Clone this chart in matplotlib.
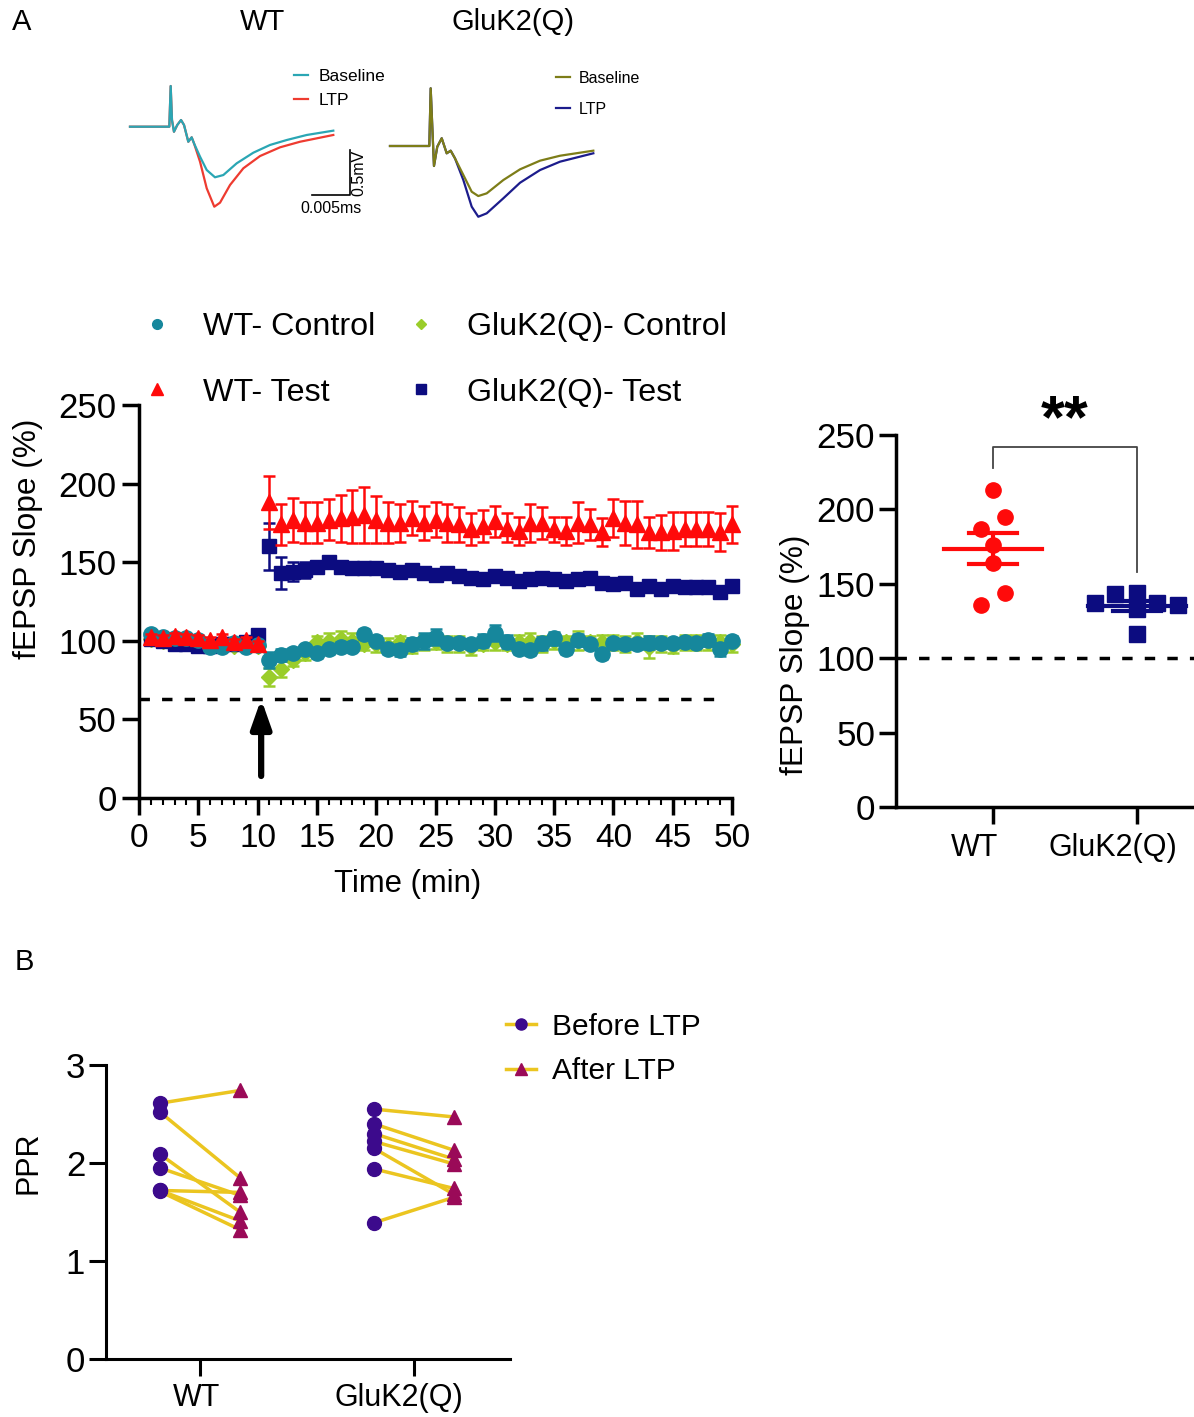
import numpy as np
import matplotlib
matplotlib.use('Agg')
import matplotlib.pyplot as plt
from matplotlib import font_manager
from matplotlib.lines import Line2D

# fontes: Arial-like, com versão estreita se existir
names = {f.name for f in font_manager.fontManager.ttflist}
SANS = 'Liberation Sans'
NARROW = 'Liberation Sans Narrow' if 'Liberation Sans Narrow' in names else SANS
NK = 1.0 if NARROW != SANS else 0.93
plt.rcParams['font.family'] = [SANS, 'DejaVu Sans']

# ---------------- dados ----------------
# traços de exemplo (ms, mV)
wt_t_common = [0, 0.00513, 0.00531, 0.00548, 0.00574, 0.00617, 0.00666, 0.00705, 0.00761, 0.00805, 0.00835]
wt_v_common = [0, 0, 0.452, 0.074, -0.056, 0.019, 0.074, 0.019, -0.167, -0.118, -0.184]
wt_t_tail = [0.00914, 0.01001, 0.01109, 0.01218, 0.01392, 0.01609, 0.01827, 0.02045, 0.02306, 0.02653]
wt_base_tail = [-0.333, -0.481, -0.562, -0.537, -0.407, -0.289, -0.203, -0.148, -0.092, -0.044]
wt_t_tail_ltp = [0.00914, 0.01001, 0.01100, 0.01175, 0.01305, 0.01479, 0.01697, 0.01958, 0.02219, 0.02653]
wt_ltp_tail = [-0.389, -0.684, -0.889, -0.844, -0.648, -0.462, -0.326, -0.229, -0.167, -0.092]

gk_t_common = [0, 0.00513, 0.00531, 0.00552, 0.00574, 0.00617, 0.00675, 0.00740, 0.00792, 0.00848]
gk_v_common = [0, 0, 0.641, 0.214, -0.222, -0.008, 0.086, -0.081, -0.052, -0.137]
gk_t_tail = [0.00957, 0.01066, 0.01152, 0.01262, 0.01479, 0.01697, 0.01958, 0.02219, 0.02653]
gk_base_tail = [-0.322, -0.508, -0.556, -0.526, -0.378, -0.259, -0.163, -0.108, -0.052]
gk_ltp_tail = [-0.378, -0.674, -0.786, -0.748, -0.581, -0.408, -0.267, -0.174, -0.081]

# curso temporal (min 1..50)
minutes = list(range(1, 51))
wt_ctrl = [104.6, 102.6, 101.5, 101.5, 100.5, 96.3, 95.9, 98.5, 96.3, 97.3,
           87.8, 91.0, 92.4, 94.6, 92.0, 94.6, 96.3, 96.3, 104.3, 100.1,
           94.6, 94.1, 97.9, 100.1, 102.6, 98.8, 98.8, 97.9, 100.1, 104.8,
           99.5, 94.6, 94.1, 98.4, 101.5, 94.6, 100.5, 97.9, 91.6, 98.8,
           97.9, 97.9, 98.8, 98.4, 98.4, 99.5, 98.8, 100.5, 94.6, 100.1]
wt_ctrl_sem = [2, 2, 2, 2, 2, 2, 2, 2, 2, 2,
               5, 4, 3, 3, 3, 3, 3, 3, 3, 3,
               3, 4, 4, 5, 5, 3, 3, 3, 4, 5,
               4, 3, 3, 4, 4, 3, 4, 3, 3, 3,
               3, 3, 4, 3, 3, 3, 3, 4, 4, 3]
gk_ctrl = [101, 100, 100, 99, 99, 98, 98, 97, 98, 97,
           77, 82, 88, 92, 99, 100, 101, 100, 98, 98,
           97, 99, 97, 99, 99, 98, 98, 96, 98, 99,
           98, 99, 100, 98, 100, 99, 100, 99, 99, 99,
           98, 100, 96, 98, 97, 99, 99, 99, 99, 98]
gk_ctrl_sem = [2, 2, 2, 2, 2, 2, 2, 2, 2, 2,
               6, 5, 4, 4, 4, 5, 5, 5, 4, 5,
               5, 4, 5, 5, 4, 5, 5, 5, 4, 5,
               4, 5, 5, 5, 5, 4, 6, 4, 5, 5,
               5, 5, 7, 5, 5, 5, 5, 5, 5, 5]
wt_test = [102.6, 101.5, 103.1, 102.2, 101.5, 100.5, 102.2, 99.4, 100.5, 97.9,
           188, 174, 177, 175, 175, 177, 178, 179, 180, 177,
           175, 175, 178, 175, 177, 175, 174, 171, 173, 176,
           172, 170, 175, 175, 171, 170, 175, 174, 169, 178,
           175, 174, 169, 169, 170, 171, 171, 171, 169, 174]
wt_test_sem = [2, 2, 2, 2, 2, 2, 2, 2, 2, 2,
               17, 13, 14, 13, 13, 13, 15, 17, 18, 15,
               13, 12, 11, 11, 11, 12, 11, 10, 10, 10,
               9, 9, 12, 10, 8, 9, 13, 10, 9, 12,
               14, 15, 10, 11, 12, 11, 11, 11, 12, 12]
gk_test = [101, 100, 98, 98, 97, 97, 98, 98, 99, 104,
           160, 143, 144, 145, 147, 150, 147, 146, 146, 146,
           145, 144, 145, 143, 142, 143, 141, 140, 139, 141,
           140, 138, 139, 140, 139, 138, 139, 140, 137, 136,
           137, 133, 135, 133, 135, 134, 134, 134, 131, 135]
gk_test_sem = [2, 2, 2, 2, 2, 2, 2, 2, 2, 2,
               15, 10, 6, 5, 4, 4, 3, 3, 3, 3,
               3, 3, 3, 3, 3, 3, 3, 3, 3, 3,
               3, 3, 3, 3, 3, 3, 3, 3, 3, 3,
               3, 3, 3, 3, 3, 3, 3, 3, 3, 3]
dashed_level = 63

# LTP por animal
groups = ['WT', 'GluK2(Q)']
ltp_wt = [213, 195, 187, 176, 164, 144, 136]
ltp_gk = [137, 143, 144, 133, 137, 136, 116]
jit_wt = [0, 0.085, -0.085, 0, 0, 0.085, -0.085]
jit_gk = [-0.29, -0.15, 0, 0, 0.14, 0.285, 0]

# PPR
ppr_wt_before = [2.61, 2.52, 2.09, 1.95, 1.72, 1.72, 1.71]
ppr_wt_after = [2.74, 1.85, 1.50, 1.67, 1.70, 1.41, 1.32]
ppr_gk_before = [2.55, 2.40, 2.30, 2.22, 2.15, 1.94, 1.39]
ppr_gk_after = [2.47, 2.13, 2.04, 1.99, 1.68, 1.74, 1.65]

# cores
TEAL, LIME, RED, NAVY = '#16879c', '#9acd2a', '#ff0a0a', '#0c0c80'
PURPLE, MAROON, GOLD = '#3c0a8c', '#9a0a58', '#ebc520'

W, H = 1194, 1417
fig = plt.figure(figsize=(W / 100, H / 100), dpi=100)


def fx(px):
    return px / W


def fy(py):
    return 1 - py / H


def style(ax, lw=2.5):
    for s in ['top', 'right']:
        ax.spines[s].set_visible(False)
    for s in ['left', 'bottom']:
        ax.spines[s].set_linewidth(lw)
    ax.tick_params(which='major', length=12, width=lw, direction='out')


def cat_labels(ax, xs, y, size):
    # rótulos das categorias um pouco deslocados, como no original
    ax.set_xticklabels([])
    for x, lab in zip(xs, groups):
        ax.text(x, y, lab, transform=ax.get_xaxis_transform(), ha='center', va='center',
                fontsize=size, clip_on=False)


# ---------------- traços ----------------
fig.text(fx(22), fy(22), 'A', fontsize=21, ha='center', va='center')
fig.text(fx(263), fy(22), 'WT', fontsize=21, ha='center', va='center')
fig.text(fx(513), fy(22), 'GluK2(Q)', fontsize=21, ha='center', va='center')

axt1 = fig.add_axes([fx(125), fy(230), fx(250), fy(80) - fy(230)])
axt1.set_xlim(-0.00065, 0.03197)
axt1.set_ylim((126.7 - 230) * 0.01111, (126.7 - 80) * 0.01111)
axt1.axis('off')
axt1.plot(wt_t_common + wt_t_tail, wt_v_common + wt_base_tail, color='#2aa6b4', lw=1.6, zorder=3, label='Baseline')
axt1.plot(wt_t_common + wt_t_tail_ltp, wt_v_common + wt_ltp_tail, color='#ee3b30', lw=1.6, zorder=2, label='LTP')
sb_t, sb_v = 0.02371, -0.759
axt1.plot([sb_t, sb_t + 0.005, sb_t + 0.005], [sb_v, sb_v, sb_v + 0.5], color='black', lw=1.2)
axt1.text(sb_t + 0.0025, sb_v - 0.07, '0.005ms', ha='center', va='top', fontsize=11.5)
axt1.text(sb_t + 0.0062, sb_v + 0.25, '0.5mV', ha='center', va='center', rotation=90, fontsize=11.5)
axt1.legend(loc='upper left', bbox_to_anchor=(fx(294), fy(69)), bbox_transform=fig.transFigure,
            frameon=False, fontsize=12.5, handlelength=0.8, handletextpad=0.6, labelspacing=0.5,
            borderpad=0, borderaxespad=0)

axt2 = fig.add_axes([fx(385), fy(230), fx(215), fy(80) - fy(230)])
axt2.set_xlim(-0.00065, 0.0274)
axt2.set_ylim((146 - 230) * 0.01111, (146 - 80) * 0.01111)
axt2.axis('off')
axt2.plot(gk_t_common + gk_t_tail, gk_v_common + gk_base_tail, color='#7d7d18', lw=1.6, zorder=3, label='Baseline')
axt2.plot(gk_t_common + gk_t_tail, gk_v_common + gk_ltp_tail, color='#1c1c8c', lw=1.6, zorder=2, label='LTP')
axt2.legend(loc='upper left', bbox_to_anchor=(fx(556), fy(71)), bbox_transform=fig.transFigure,
            frameon=False, prop={'family': NARROW, 'size': 11.5}, handlelength=0.9,
            handletextpad=0.5, labelspacing=1.0, borderpad=0, borderaxespad=0)

# ---------------- curso temporal ----------------
ax = fig.add_axes([fx(139), fy(798), fx(732) - fx(139), fy(405) - fy(798)])
style(ax)
ax.set_xlim(0, 50)
ax.set_ylim(0, 250)
ax.set_xticks(range(0, 51, 5))
ax.set_xticks(range(0, 51), minor=True)
ax.set_yticks(range(0, 251, 50))
ax.tick_params(which='minor', length=5, width=1.5)
ax.tick_params(axis='y', labelsize=25, pad=4)
ax.tick_params(axis='x', labelsize=24, pad=6)

eb = dict(capsize=4.5, elinewidth=1.8, capthick=1.8, clip_on=False, linestyle='none')
ax.errorbar(minutes, gk_ctrl, yerr=gk_ctrl_sem, fmt='D', color=LIME, ms=8, zorder=2, **eb)
ax.errorbar(minutes, gk_test, yerr=gk_test_sem, fmt='s', color=NAVY, ms=10, zorder=3, **eb)
ax.errorbar(minutes, wt_ctrl, yerr=wt_ctrl_sem, fmt='o', color=TEAL, ms=11, zorder=4, **eb)
ax.errorbar(minutes, wt_test, yerr=wt_test_sem, fmt='^', color=RED, ms=11, zorder=5, **eb)

ax.plot([0, 49], [dashed_level, dashed_level], color='black', lw=2.5, dashes=(3, 3.5))
ax.annotate('', xy=(10.3, dashed_level), xytext=(10.3, 14),
            arrowprops=dict(arrowstyle='-|>,head_width=0.6,head_length=1.7', color='black', lw=4.5,
                            shrinkA=0, shrinkB=0))

ax.set_xlabel('Time (min)', fontsize=24 * NK, family=NARROW)
ax.xaxis.set_label_coords(0.4536, -0.18)
ax.set_ylabel('fEPSP Slope (%)', fontsize=24.5 * NK, family=NARROW)
ax.yaxis.set_label_coords(-0.162, 0.66)

handles = [
    Line2D([], [], ls='none', marker='o', color=TEAL, ms=7),
    Line2D([], [], ls='none', marker='^', color=RED, ms=8),
    Line2D([], [], ls='none', marker='D', color=LIME, ms=5.5),
    Line2D([], [], ls='none', marker='s', color=NAVY, ms=7),
]
labels = ['WT- Control', 'WT- Test', 'GluK2(Q)- Control', 'GluK2(Q)- Test']
fig.legend(handles, labels, ncol=2, loc='center left', bbox_to_anchor=(fx(141), fy(360)),
           frameon=False, prop={'family': NARROW, 'size': 25 * NK}, handlelength=1.0,
           handletextpad=0.93, columnspacing=0.9, labelspacing=1.1, borderpad=0, borderaxespad=0)

# ---------------- LTP por animal ----------------
ax2 = fig.add_axes([fx(896), fy(807), fx(1194) - fx(896), fy(435) - fy(807)])
style(ax2)
ax2.set_xlim(-0.674, 1.396)
ax2.set_ylim(0, 250)
ax2.set_yticks(range(0, 251, 50))
ax2.set_xticks([0, 1])
cat_labels(ax2, [-0.125, 0.833], -0.11, 22)
for lab in ax2.get_yticklabels():
    lab.set_fontfamily(NARROW)
    lab.set_fontsize(28 * (0.9 if NK < 1 else 1))
ax2.tick_params(axis='y', pad=3)
ax2.axhline(100, color='black', lw=2.5, dashes=(3, 3.5), zorder=1)

for i, (vals, jit, col, mk) in enumerate([(ltp_wt, jit_wt, RED, 'o'), (ltp_gk, jit_gk, NAVY, 's')]):
    v = np.array(vals, dtype=float)
    ax2.plot(i + np.array(jit), v, ls='none', marker=mk, color=col, ms=11, zorder=3, clip_on=False)
    m = v.mean()
    se = v.std(ddof=1) / np.sqrt(len(v))
    ax2.plot([i - 0.34, i + 0.34], [m, m], color=col, lw=3, zorder=4)
    for yy in (m - se, m + se):
        ax2.plot([i - 0.167, i + 0.167], [yy, yy], color=col, lw=3, zorder=4)
    ax2.plot([i, i], [m - se, m + se], color=col, lw=3, zorder=4)

ax2.plot([0, 0, 1, 1], [228, 242, 242, 158], color='#444444', lw=1.3, clip_on=False)
ax2.text(0.5, 259, '**', ha='center', va='center', fontsize=44, fontweight='bold')
ax2.set_ylabel('fEPSP Slope (%)', fontsize=24.5 * NK, family=NARROW)
ax2.yaxis.set_label_coords(-0.289, 0.41)

# ---------------- B: PPR ----------------
fig.text(fx(24), fy(962), 'B', fontsize=21, ha='center', va='center')
ax3 = fig.add_axes([fx(106), fy(1359), fx(510) - fx(106), fy(1065) - fy(1359)])
style(ax3, lw=2.2)
ax3.set_xlim(-0.439, 1.449)
ax3.set_ylim(0, 3)
ax3.set_yticks([0, 1, 2, 3])
ax3.set_xticks([0, 1])
cat_labels(ax3, [-0.014, 0.93], -0.133, 22)
ax3.tick_params(axis='y', labelsize=25, pad=3)
off = 0.187
for i, (bef, aft) in enumerate([(ppr_wt_before, ppr_wt_after), (ppr_gk_before, ppr_gk_after)]):
    for b, a in zip(bef, aft):
        ax3.plot([i - off, i + off], [b, a], color=GOLD, lw=2.5, zorder=1)
    ax3.plot([i - off] * len(bef), bef, ls='none', marker='o', color=PURPLE, ms=10, zorder=3)
    ax3.plot([i + off] * len(aft), aft, ls='none', marker='^', color=MAROON, ms=10, zorder=3)
ax3.set_ylabel('PPR', fontsize=22)
ax3.yaxis.set_label_coords(-0.155, 0.667)

hb = [Line2D([], [], color=GOLD, lw=2.5, marker='o', mfc=PURPLE, mec=PURPLE, ms=8),
      Line2D([], [], color=GOLD, lw=2.5, marker='^', mfc=MAROON, mec=MAROON, ms=8)]
fig.legend(hb, ['Before LTP', 'After LTP'], loc='center left', bbox_to_anchor=(fx(506), fy(1049)),
           frameon=False, fontsize=21.5, handlelength=1.0, handletextpad=0.55, labelspacing=0.55,
           borderpad=0, borderaxespad=0)

fig.savefig('out.png', dpi=100)
